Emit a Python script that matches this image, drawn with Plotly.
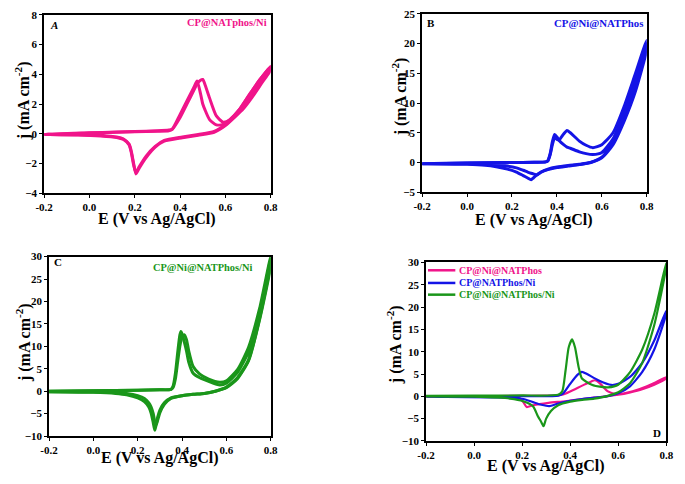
import plotly.graph_objects as go

# ---------------- data ----------------
# Panel A : CP@NATphos/Ni (two cycles)
EA_fwd = [-0.2, 0.0, 0.12, 0.2, 0.3, 0.35, 0.365, 0.40, 0.43, 0.46, 0.475, 0.49, 0.50, 0.51, 0.53, 0.56, 0.59, 0.62, 0.66, 0.70, 0.75, 0.80]
jA1_fwd = [-0.05, 0.05, 0.1, 0.13, 0.17, 0.2, 0.3, 1.3, 2.2, 3.1, 3.55, 2.7, 2.0, 1.6, 0.95, 0.6, 0.62, 0.95, 1.6, 2.5, 3.6, 4.5]
jA2_fwd = [-0.05, 0.06, 0.12, 0.15, 0.2, 0.25, 0.3, 1.1, 2.0, 2.9, 3.35, 3.6, 3.65, 3.3, 2.4, 1.2, 0.78, 0.95, 1.6, 2.5, 3.6, 4.55]
EA_rev = [0.80, 0.76, 0.72, 0.68, 0.64, 0.60, 0.55, 0.48, 0.41, 0.33, 0.29, 0.25, 0.22, 0.205, 0.195, 0.185, 0.175, 0.15, 0.12, 0.05, -0.05, -0.2]
jA1_rev = [4.3, 3.4, 2.5, 1.7, 1.1, 0.55, 0.1, -0.1, -0.27, -0.5, -0.9, -1.6, -2.3, -2.7, -2.0, -1.2, -0.7, -0.35, -0.22, -0.12, -0.07, -0.05]
jA2_rev = [4.4, 3.5, 2.6, 1.8, 1.15, 0.6, 0.15, -0.05, -0.22, -0.45, -0.85, -1.5, -2.2, -2.6, -2.1, -1.3, -0.75, -0.38, -0.25, -0.15, -0.08, -0.05]

# Panel B : CP@Ni@NATPhos (two cycles)
EB_fwd = [-0.2, 0.0, 0.2, 0.3, 0.35, 0.36, 0.37, 0.38, 0.39, 0.40, 0.41, 0.43, 0.445, 0.46, 0.50, 0.53, 0.56, 0.60, 0.65, 0.70, 0.75, 0.80]
jB1_fwd = [-0.2, -0.1, 0.0, 0.05, 0.1, 0.3, 1.5, 3.5, 4.7, 4.3, 3.7, 3.0, 2.6, 2.4, 1.8, 1.5, 1.35, 1.7, 4.0, 8.5, 14.0, 20.0]
jB2_fwd = [-0.2, -0.1, 0.0, 0.05, 0.1, 0.3, 1.3, 3.0, 4.2, 3.9, 3.8, 4.8, 5.4, 5.0, 3.6, 2.9, 2.5, 3.0, 5.0, 9.5, 15.0, 20.5]
EB_rev = [0.80, 0.75, 0.70, 0.65, 0.60, 0.55, 0.50, 0.45, 0.40, 0.36, 0.33, 0.31, 0.295, 0.285, 0.27, 0.25, 0.22, 0.18, 0.13, 0.08, 0.0, -0.2]
jB1_rev = [19.5, 12.5, 7.5, 3.3, 0.9, 0.0, -0.35, -0.6, -0.85, -1.2, -1.6, -2.1, -2.6, -2.9, -2.6, -2.2, -1.6, -1.1, -0.7, -0.45, -0.3, -0.2]
jB2_rev = [19.0, 12.0, 7.0, 3.0, 0.8, 0.0, -0.3, -0.5, -0.75, -1.1, -1.6, -2.1, -1.9, -1.8, -1.6, -1.3, -0.9, -0.6, -0.4, -0.3, -0.2, -0.2]

# Panel C : CP@Ni@NATPhos/Ni (two cycles)
EC_fwd = [-0.2, 0.0, 0.2, 0.3, 0.35, 0.36, 0.37, 0.38, 0.39, 0.395, 0.40, 0.41, 0.42, 0.43, 0.45, 0.48, 0.52, 0.57, 0.60, 0.65, 0.70, 0.75, 0.80]
jC1_fwd = [0.0, 0.1, 0.2, 0.3, 0.4, 1.2, 4.0, 8.5, 12.5, 13.3, 12.8, 11.0, 9.0, 6.5, 4.0, 3.0, 2.2, 1.4, 1.8, 4.2, 8.8, 17.5, 29.5]
jC2_fwd = [0.0, 0.1, 0.2, 0.3, 0.4, 0.9, 2.8, 6.5, 10.0, 11.3, 12.0, 12.6, 11.5, 9.0, 5.5, 3.8, 2.7, 2.0, 2.3, 4.8, 9.8, 18.5, 30.0]
EC_rev = [0.80, 0.75, 0.70, 0.65, 0.60, 0.55, 0.50, 0.45, 0.40, 0.35, 0.32, 0.30, 0.29, 0.283, 0.277, 0.27, 0.26, 0.25, 0.23, 0.20, 0.15, 0.10, 0.0, -0.2]
jC1_rev = [28.5, 16.3, 7.0, 3.0, 0.9, 0.0, -0.5, -0.7, -1.0, -1.5, -2.6, -4.2, -5.8, -7.5, -8.7, -7.0, -4.8, -3.5, -2.3, -1.5, -0.8, -0.5, -0.25, -0.1]
jC2_rev = [28.0, 16.0, 6.8, 2.8, 0.8, 0.0, -0.5, -0.7, -1.0, -1.6, -2.9, -4.8, -6.5, -7.5, -6.8, -5.0, -3.5, -2.6, -1.6, -1.0, -0.5, -0.3, -0.15, -0.1]

# Panel D : comparison (one cycle each)
ED_pink_fwd = [-0.2, 0.0, 0.2, 0.35, 0.37, 0.40, 0.45, 0.49, 0.503, 0.52, 0.557, 0.59, 0.62, 0.66, 0.717, 0.75, 0.80]
jD_pink_fwd = [-0.05, 0.05, 0.1, 0.2, 0.4, 1.1, 2.4, 3.4, 3.6, 3.1, 1.1, 0.5, 0.6, 1.1, 2.2, 3.0, 4.3]
ED_pink_rev = [0.80, 0.75, 0.70, 0.65, 0.60, 0.55, 0.50, 0.45, 0.38, 0.31, 0.245, 0.219, 0.205, 0.19, 0.17, 0.1, 0.0, -0.2]
jD_pink_rev = [4.0, 2.6, 1.6, 0.9, 0.35, 0.0, -0.3, -0.6, -1.1, -1.45, -2.0, -2.4, -1.3, -0.4, -0.2, -0.12, -0.08, -0.05]

ED_blue_fwd = [-0.2, 0.0, 0.2, 0.35, 0.37, 0.40, 0.43, 0.449, 0.47, 0.517, 0.571, 0.60, 0.65, 0.70, 0.75, 0.80]
jD_blue_fwd = [-0.1, 0.0, 0.05, 0.15, 0.6, 2.8, 4.8, 5.5, 5.0, 3.6, 2.55, 2.8, 4.4, 7.5, 12.5, 19.2]
ED_blue_rev = [0.80, 0.75, 0.70, 0.65, 0.60, 0.55, 0.50, 0.45, 0.40, 0.35, 0.313, 0.28, 0.245, 0.205, 0.1, -0.2]
jD_blue_rev = [18.5, 10.5, 5.5, 2.3, 0.7, 0.0, -0.3, -0.6, -1.0, -1.6, -2.2, -1.9, -1.3, -0.6, -0.25, -0.1]

ED_green_fwd = [-0.2, 0.0, 0.2, 0.35, 0.367, 0.381, 0.394, 0.408, 0.42, 0.435, 0.449, 0.49, 0.53, 0.558, 0.60, 0.65, 0.70, 0.75, 0.80]
jD_green_fwd = [0.1, 0.15, 0.2, 0.35, 1.1, 5.9, 11.0, 12.75, 11.0, 6.6, 4.0, 2.6, 2.1, 2.0, 2.6, 5.5, 10.5, 18.5, 30.0]
ED_green_rev = [0.80, 0.75, 0.70, 0.65, 0.60, 0.55, 0.50, 0.45, 0.40, 0.35, 0.32, 0.30, 0.289, 0.28, 0.265, 0.245, 0.205, 0.15, 0.0, -0.2]
jD_green_rev = [29.0, 16.0, 7.5, 3.0, 0.9, 0.0, -0.5, -0.8, -1.2, -2.0, -3.3, -5.0, -6.7, -5.8, -4.4, -2.2, -1.1, -0.5, -0.1, 0.0]

x_ticks = [-0.2, 0.0, 0.2, 0.4, 0.6, 0.8]
x_tick_text = ["-0.2", "0.0", "0.2", "0.4", "0.6", "0.8"]

PINK = "#F0148A"
BLUE = "#1414E6"
GREEN = "#1A961A"
FONT = "Liberation Serif"

# ---------------- figure ----------------
fig = go.Figure()


def loop(e_f, j_f, e_r, j_r):
    return list(e_f) + list(e_r), list(j_f) + list(j_r)


def add(xs, ys, color, width, ax):
    fig.add_trace(go.Scatter(
        x=xs, y=ys, mode="lines", xaxis="x" + ax, yaxis="y" + ax,
        line=dict(color=color, width=width, shape="spline", smoothing=0.6),
        showlegend=False, hoverinfo="skip"))


for jf, jr in [(jA1_fwd, jA1_rev), (jA2_fwd, jA2_rev)]:
    add(*loop(EA_fwd, jf, EA_rev, jr), PINK, 3, "")
for jf, jr in [(jB1_fwd, jB1_rev), (jB2_fwd, jB2_rev)]:
    add(*loop(EB_fwd, jf, EB_rev, jr), BLUE, 3, "2")
for jf, jr in [(jC1_fwd, jC1_rev), (jC2_fwd, jC2_rev)]:
    add(*loop(EC_fwd, jf, EC_rev, jr), GREEN, 3, "3")

add(*loop(ED_pink_fwd, jD_pink_fwd, ED_pink_rev, jD_pink_rev), PINK, 2.2, "4")
add(*loop(ED_blue_fwd, jD_blue_fwd, ED_blue_rev, jD_blue_rev), BLUE, 2.2, "4")
add(*loop(ED_green_fwd, jD_green_fwd, ED_green_rev, jD_green_rev), GREEN, 2.2, "4")

W, H = 685, 484


def dom_x(a, b):
    return [a / W, b / W]


def dom_y(top, bot):
    return [1 - bot / H, 1 - top / H]


TICKFONT = dict(family=FONT, size=11, color="black", weight="bold")


def xax(dom, anchor):
    return dict(domain=dom, anchor=anchor, range=[-0.2, 0.8], tickvals=x_ticks, ticktext=x_tick_text,
                showline=True, linecolor="black", linewidth=1.8, mirror=True,
                ticks="outside", ticklen=3, tickwidth=1.3, tickcolor="black",
                showgrid=False, zeroline=False, tickfont=TICKFONT)


def yax(dom, anchor, rng, dt):
    return dict(domain=dom, anchor=anchor, range=rng, dtick=dt, tick0=0,
                showline=True, linecolor="black", linewidth=1.8, mirror=True,
                ticks="outside", ticklen=3, tickwidth=1.3, tickcolor="black",
                showgrid=False, zeroline=False, tickfont=TICKFONT)


fig.update_layout(
    width=W, height=H, margin=dict(l=0, r=0, t=0, b=0),
    paper_bgcolor="white", plot_bgcolor="white",
    xaxis=xax(dom_x(36, 268), "y"), yaxis=yax(dom_y(9, 192), "x", [-4, 8], 2),
    xaxis2=xax(dom_x(423, 653), "y2"), yaxis2=yax(dom_y(8, 191), "x2", [-5, 25], 5),
    xaxis3=xax(dom_x(41, 268), "y3"), yaxis3=yax(dom_y(257, 441), "x3", [-10, 30], 5),
    xaxis4=xax(dom_x(427, 673), "y4"), yaxis4=yax(dom_y(263, 446), "x4", [-10, 30], 5),
)


def ann(text, px, py, color, size, xanchor="left", italic=False, angle=0):
    t = "<b>%s</b>" % text
    if italic:
        t = "<i>%s</i>" % t
    fig.add_annotation(text=t, x=px / W, y=1 - py / H, xref="paper", yref="paper",
                       xanchor=xanchor, yanchor="middle", showarrow=False, textangle=angle,
                       font=dict(family=FONT, size=size, color=color))


# axis titles
XT = "E (V vs Ag/AgCl)"
YT = "j (mA cm<sup>-2</sup>)"
for cx, cy in [(152, 218), (538, 219), (155, 463), (550, 472)]:
    ann(XT, cx, cy, "black", 16, xanchor="center")
for cx, cy in [(14, 97), (400, 93), (15, 345), (395, 347)]:
    ann(YT, cx, cy, "black", 16, xanchor="center", angle=-90)

# panel letters and labels
ann("A", 40, 19, "black", 11, italic=True)
ann("B", 426, 17, "black", 11)
ann("C", 44, 263, "black", 11)
ann("D", 670, 438, "black", 11, xanchor="right")
ann("CP@NATphos/Ni", 266, 17, PINK, 10.5, xanchor="right")
ann("CP@Ni@NATPhos", 651, 17, BLUE, 10.8, xanchor="right")
ann("CP@Ni@NATPhos/Ni", 145, 268, GREEN, 10.4)

legend_rows = [("CP@Ni@NATPhos", PINK, 271), ("CP@NATPhos/Ni", BLUE, 284), ("CP@Ni@NATPhos/Ni", GREEN, 296)]
for label, color, py in legend_rows:
    fig.add_shape(type="line", xref="paper", yref="paper", x0=429 / W, x1=457 / W,
                  y0=1 - py / H, y1=1 - py / H, line=dict(color=color, width=2.5))
    ann(label, 459, py, color, 10)

fig.write_html("out.html", config={"displayModeBar": False},
               post_script="document.body.style.margin='0px';document.body.style.padding='0px';document.body.style.overflow='hidden';")
